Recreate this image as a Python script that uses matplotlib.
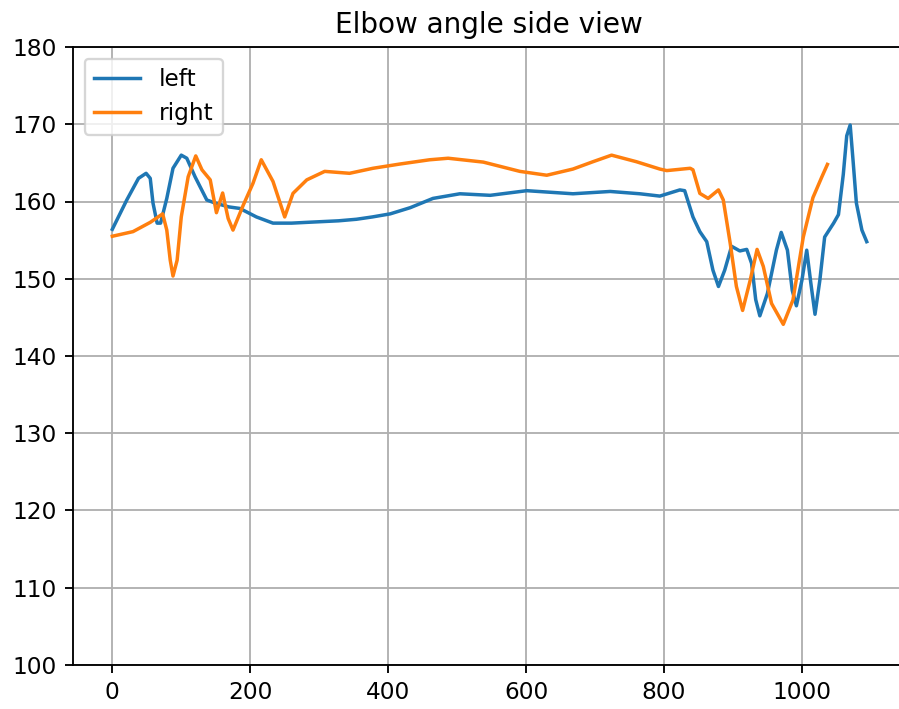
"""
Elbow angle side view: left vs right elbow angle per frame.
"""

import matplotlib
matplotlib.use("Agg")
import matplotlib.pyplot as plt


# ─── Data ─────────────────────────────────────────────────────────────────────

left_frames = [0, 21, 38, 49, 55, 59, 65, 70, 79, 88, 100, 108, 120, 137, 149,
               169, 185, 209, 233, 260, 282, 328, 354, 377, 403, 432, 465, 504,
               548, 601, 668, 722, 765, 794, 823, 830, 842, 852, 862, 871, 879,
               888, 898, 910, 920, 927, 933, 939, 950, 963, 970, 979, 986, 992,
               1000, 1007, 1013, 1019, 1026, 1033, 1046, 1053, 1060, 1065, 1070,
               1074, 1079, 1087, 1094]
left_angle = [156.4, 160.2, 163.0, 163.65, 163.0, 159.8, 157.2, 157.2, 160.4,
              164.3, 166.0, 165.6, 163.2, 160.2, 159.8, 159.3, 159.1, 158.0,
              157.2, 157.2, 157.3, 157.5, 157.7, 158.0, 158.4, 159.2, 160.4,
              161.0, 160.8, 161.4, 161.0, 161.3, 161.0, 160.7, 161.5, 161.4,
              158.0, 156.1, 154.8, 151.1, 149.0, 151.1, 154.2, 153.6, 153.8,
              152.0, 147.3, 145.2, 148.1, 153.7, 156.0, 153.7, 148.5, 146.5,
              149.8, 153.7, 149.4, 145.4, 149.8, 155.4, 157.2, 158.3, 163.5,
              168.5, 169.9, 165.5, 159.8, 156.3, 154.8]

right_frames = [0, 30, 55, 73, 79, 84, 88, 94, 100, 110, 121, 130, 142, 151,
                160, 168, 175, 190, 204, 216, 233, 250, 262, 282, 308, 344, 378,
                417, 460, 487, 538, 591, 630, 668, 697, 724, 760, 794, 804, 838,
                842, 852, 864, 879, 886, 896, 905, 914, 925, 935, 944, 956, 973,
                987, 1002, 1016, 1029, 1037]
right_angle = [155.5, 156.1, 157.3, 158.4, 156.3, 152.4, 150.35, 152.4, 158.0,
               163.2, 165.9, 164.1, 162.8, 158.55, 161.1, 157.8, 156.3, 159.55,
               162.35, 165.4, 162.6, 158.0, 161.05, 162.8, 163.9, 163.65, 164.3,
               164.85, 165.4, 165.6, 165.1, 163.9, 163.4, 164.2, 165.15, 166.0,
               165.15, 164.2, 164.0, 164.3, 164.1, 161.05, 160.4, 161.5, 160.2,
               154.6, 149.0, 145.9, 149.8, 153.8, 151.6, 146.8, 144.1, 147.25,
               155.4, 160.5, 163.2, 164.8]

TITLE = "Elbow angle side view"


# ─── Plot ─────────────────────────────────────────────────────────────────────

DPI = 167
fig = plt.figure(figsize=(899 / DPI, 709 / DPI), dpi=DPI)
ax = fig.add_axes([73 / 899, 44 / 709, 832 / 899, 618 / 709])

ax.plot(left_frames, left_angle, label="left")
ax.plot(right_frames, right_angle, label="right")

ax.set_title(TITLE)
ax.set_xlim(-57, 1149.5)
ax.set_ylim(100, 180)
ax.grid(True)
ax.legend(loc="upper left")

fig.savefig("out.png", dpi=DPI)
plt.close(fig)
